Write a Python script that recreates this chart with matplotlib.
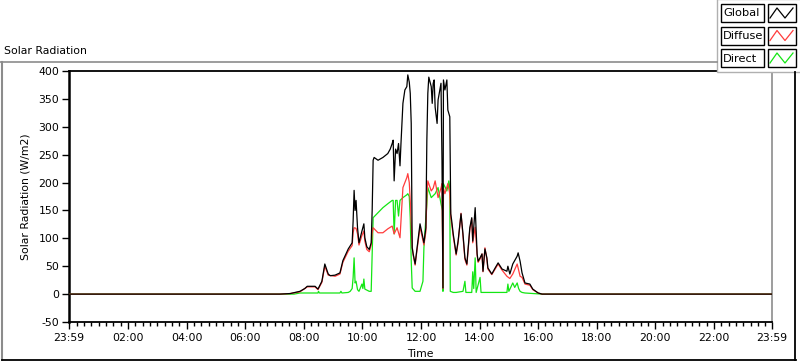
import matplotlib
matplotlib.use("Agg")
import matplotlib.pyplot as plt
from matplotlib.lines import Line2D
from matplotlib.patches import Rectangle

# ---------------- data (minutes after midnight, W/m2) ----------------
t_global = [-1, 431, 452, 462, 472, 482, 487, 503, 509, 517, 523, 530, 534, 544, 554, 560, 571, 579, 581, 583,
            585, 587, 590, 593, 599, 603, 605, 609, 614, 618, 620, 622, 624, 632, 642, 652, 657, 661, 663, 665,
            668, 671, 674, 677, 679, 683, 687, 691, 693, 696, 698, 700, 702, 704, 708, 712, 718, 724, 726, 730,
            732, 734, 736, 741, 743, 745, 747, 749, 753, 755, 761, 763, 765, 766, 769, 773, 775, 779, 781, 783,
            786, 792, 796, 802, 806, 810, 814, 820, 824, 826, 831, 835, 837, 841, 845, 847, 851, 855, 857, 865,
            872, 878, 886, 896, 898, 902, 908, 917, 919, 923, 927, 933, 943, 949, 960, 968, 1439]
global_rad = [0, 0, 1, 3, 5, 10, 14, 14, 9, 23, 54, 36, 33, 34, 38, 60, 81, 92, 131, 186,
              150, 168, 119, 92, 113, 126, 101, 85, 80, 92, 150, 240, 245, 240, 245, 252, 260, 270, 276, 203,
              260, 252, 270, 230, 270, 342, 366, 372, 393, 380, 360, 306, 83, 72, 54, 83, 126, 101, 92, 119,
              276, 360, 389, 372, 342, 378, 384, 335, 306, 348, 378, 240, 11, 384, 366, 384, 330, 318, 144, 131,
              108, 72, 95, 144, 108, 65, 54, 119, 137, 95, 155, 72, 59, 65, 72, 41, 81, 65, 47, 36,
              47, 56, 45, 41, 50, 36, 54, 68, 74, 59, 38, 20, 18, 9, 2, 0, 0]

t_diffuse = [-1, 431, 452, 472, 487, 503, 509, 517, 523, 530, 544, 554, 560, 571, 579, 581, 583, 587, 590, 593,
             599, 603, 605, 609, 614, 618, 620, 622, 632, 642, 652, 661, 665, 671, 677, 683, 687, 691, 693, 696,
             698, 702, 704, 708, 712, 718, 724, 726, 730, 732, 734, 741, 745, 749, 755, 761, 763, 765, 766, 769,
             775, 779, 781, 783, 786, 792, 796, 802, 806, 810, 814, 820, 824, 826, 831, 835, 837, 841, 845, 847,
             851, 855, 857, 865, 872, 878, 886, 896, 902, 908, 917, 923, 927, 933, 943, 949, 960, 968, 1439]
diffuse_rad = [0, 0, 1, 4, 13, 13, 8, 21, 50, 34, 32, 36, 57, 77, 87, 110, 119, 118, 108, 88,
               105, 113, 95, 80, 76, 88, 110, 119, 110, 110, 117, 122, 108, 119, 101, 191, 200, 209, 216, 200,
               168, 85, 70, 52, 80, 120, 96, 88, 112, 175, 203, 185, 190, 203, 173, 190, 198, 10, 190, 180,
               198, 180, 137, 125, 104, 70, 92, 145, 104, 62, 52, 115, 135, 92, 120, 70, 57, 63, 72, 40,
               83, 62, 45, 35, 45, 54, 43, 32, 28, 36, 54, 32, 30, 18, 16, 8, 2, 0, 0]

t_direct = [-1, 460, 472, 509, 510, 512, 554, 556, 558, 571, 575, 579, 581, 583, 585, 587, 590, 593, 599, 601,
            603, 605, 614, 618, 620, 622, 632, 642, 652, 661, 663, 665, 668, 671, 674, 677, 683, 691, 693, 696,
            698, 700, 702, 708, 718, 724, 726, 730, 732, 734, 741, 749, 755, 761, 764, 765, 766, 773, 777, 779,
            780, 786, 792, 806, 810, 812, 824, 826, 828, 831, 833, 841, 843, 851, 896, 898, 900, 908, 912, 917,
            920, 923, 927, 933, 950, 968, 1439]
direct_rad = [0, 0, 2, 2, 5, 2, 2, 5, 2, 3, 5, 10, 30, 65, 20, 23, 8, 5, 18, 10,
              27, 9, 5, 5, 72, 137, 146, 155, 162, 168, 168, 108, 168, 168, 140, 168, 173, 178, 180, 175,
              137, 60, 11, 5, 5, 23, 83, 137, 160, 191, 173, 180, 191, 162, 150, 5, 198, 185, 203, 190,
              5, 3, 3, 5, 23, 3, 3, 40, 10, 65, 3, 30, 3, 3, 3, 18, 5, 20, 12, 20,
              10, 5, 3, 2, 1, 0, 0]

xtick_pos = [-1, 120, 240, 360, 480, 600, 720, 840, 960, 1080, 1200, 1320, 1439]
xtick_lab = ['23:59', '02:00', '04:00', '06:00', '08:00', '10:00', '12:00', '14:00', '16:00',
             '18:00', '20:00', '22:00', '23:59']
ytick_pos = [-50, 0, 50, 100, 150, 200, 250, 300, 350, 400]

series_names = ['Global', 'Diffuse', 'Direct']
series_colors = ['#000000', '#ff3c3c', '#14e614']

# ---------------- figure ----------------
W, H = 800, 361
fig = plt.figure(figsize=(W / 100, H / 100), dpi=100)
fig.patch.set_facecolor('white')
FONT = 'DejaVu Sans'
FS = 7.8

ax = fig.add_axes([69 / W, 1 - 322 / H, (772 - 69) / W, (322 - 71) / H])
ax.set_facecolor('white')
ax.plot(t_direct, direct_rad, color=series_colors[2], lw=0.9, zorder=3)
ax.plot(t_diffuse, diffuse_rad, color=series_colors[1], lw=0.9, zorder=4)
ax.plot(t_global, global_rad, color=series_colors[0], lw=0.9, zorder=5)

ax.set_xlim(-1, 1439)
ax.set_ylim(-50, 400)
ax.set_xticks(xtick_pos)
ax.set_xticklabels(xtick_lab, fontsize=FS, family=FONT)
minor = [m for m in range(15, 1439, 15) if m % 120 != 0]
ax.set_xticks(minor, minor=True)
ax.set_yticks(ytick_pos)
ax.set_yticklabels([str(v) for v in ytick_pos], fontsize=FS, family=FONT)
ax.tick_params(axis='x', which='major', length=5, width=1, pad=3, direction='out', color='black')
ax.tick_params(axis='x', which='minor', length=3, width=1, direction='out', color='black')
ax.tick_params(axis='y', which='major', length=5, width=1, pad=2, direction='out', color='black')

ax.spines['left'].set_linewidth(1.8)
ax.spines['bottom'].set_linewidth(1.3)
ax.spines['top'].set_linewidth(1.3)
ax.spines['right'].set_color('#8c8c8c')
ax.spines['right'].set_linewidth(1.2)

ax.set_ylabel('Solar Radiation (W/m2)', fontsize=FS, family=FONT, labelpad=6)
ax.set_xlabel('Time', fontsize=FS, family=FONT, labelpad=4)

# ---------------- overlay: frame, title, legend ----------------
ov = fig.add_axes([0, 0, 1, 1], zorder=10)
ov.set_xlim(0, W)
ov.set_ylim(H, 0)
ov.axis('off')
ov.patch.set_alpha(0)

ov.plot([0, 717], [62, 62], color='#8c8c8c', lw=1.2)
ov.plot([2, 2], [62, 361], color='#8c8c8c', lw=1.5)
ov.plot([2, 796], [359.5, 359.5], color='black', lw=1.3)
ov.plot([795, 795], [72, 360], color='black', lw=1.3)
ov.text(4, 54, 'Solar Radiation', fontsize=FS, family=FONT, ha='left', va='baseline')

ov.add_patch(Rectangle((717, -1), 90, 73, facecolor='white', edgecolor='#b0b0b0', lw=1.0))
for i, (name, col) in enumerate(zip(series_names, series_colors)):
    y0 = 4 + i * 22.5
    ov.add_patch(Rectangle((721, y0), 43, 18, facecolor='white', edgecolor='black', lw=1.0))
    ov.text(723, y0 + 9.5, name, fontsize=8.2, family=FONT, ha='left', va='center')
    ov.add_patch(Rectangle((768, y0), 28, 18, facecolor='white', edgecolor='black', lw=1.0))
    ov.add_line(Line2D([770, 777, 785, 793], [y0 + 14, y0 + 4, y0 + 14, y0 + 4], color=col, lw=0.9))

fig.savefig('out.png', dpi=100, facecolor='white')
